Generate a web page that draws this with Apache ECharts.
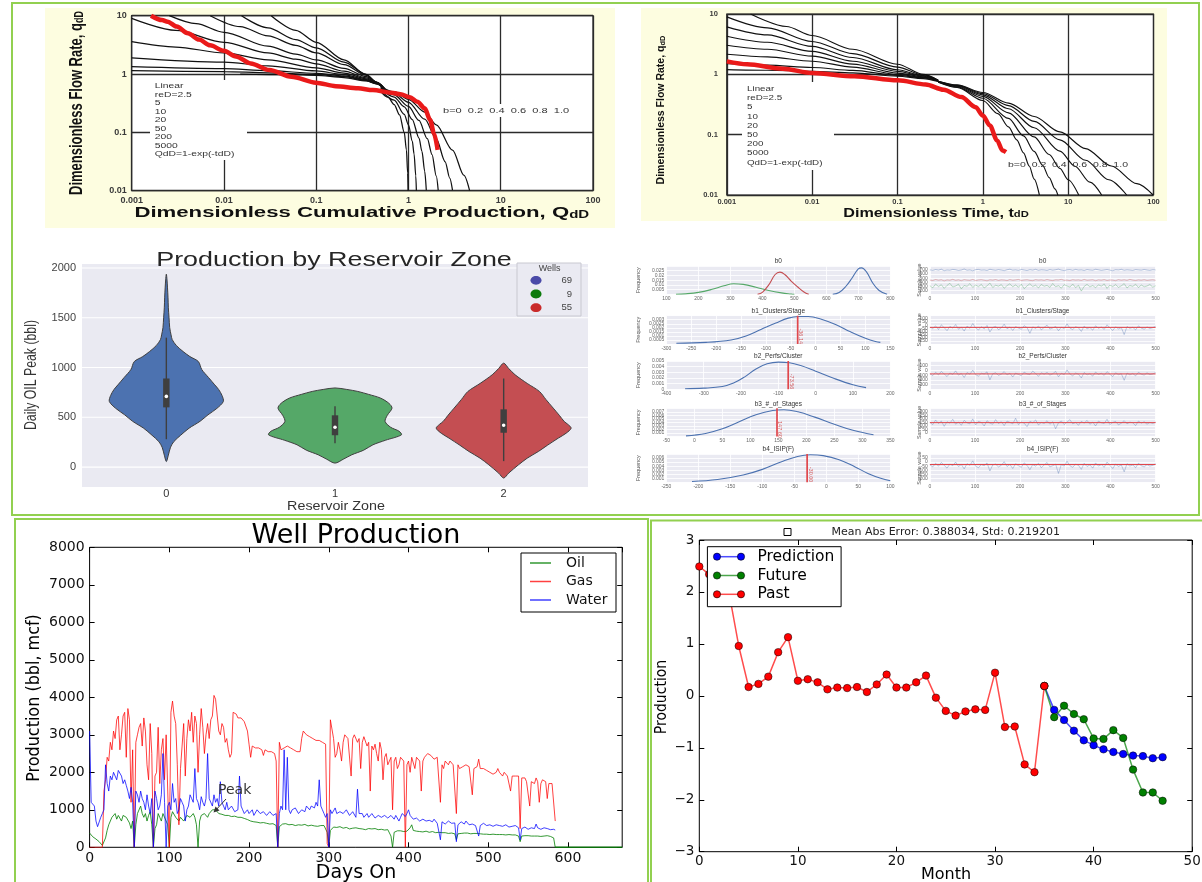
<!DOCTYPE html>
<html>
<head>
<meta charset="utf-8">
<title>Production analytics</title>
<script src="https://cdn.jsdelivr.net/npm/echarts@6/dist/echarts.min.js"></script>
<style>
  html, body { margin: 0; padding: 0; background: #fff; }
  #c { width: 1202px; height: 882px; }
</style>
</head>
<body>
<div id="c"></div>
<script>
// ===== Type curves, cumulative-production domain (Q_dD, q_dD) =====
const cumTransientStems = [
  [[0.0325,10],[0.06,5.6],[0.1,3.5],[0.2,1.75],[0.34,1.0],[0.45,0.7],[0.6,0.47]],
  [[0.0155,10],[0.03,6.2],[0.06,3.9],[0.1,2.8],[0.2,1.6],[0.35,0.98],[0.45,0.72],[0.6,0.47]],
  [[0.0071,10],[0.015,6.5],[0.03,4.5],[0.06,3.1],[0.1,2.3],[0.2,1.45],[0.35,0.95],[0.45,0.73],[0.6,0.47]],
  [[0.00256,10],[0.005,7.3],[0.01,5.2],[0.03,3.0],[0.06,2.2],[0.1,1.75],[0.2,1.25],[0.35,0.9],[0.45,0.73],[0.6,0.47]],
  [[0.001,9.0],[0.003,5.6],[0.01,3.5],[0.03,2.3],[0.06,1.8],[0.1,1.5],[0.2,1.12],[0.35,0.86],[0.45,0.72],[0.6,0.47]],
  [[0.001,3.58],[0.003,2.9],[0.01,2.3],[0.03,1.75],[0.1,1.28],[0.2,1.04],[0.35,0.83],[0.45,0.71],[0.6,0.47]],
  [[0.001,1.9],[0.01,1.6],[0.03,1.38],[0.1,1.13],[0.2,0.98],[0.35,0.8],[0.45,0.7],[0.6,0.47]],
  [[0.001,1.34],[0.01,1.24],[0.03,1.14],[0.1,1.03],[0.2,0.93],[0.35,0.78],[0.45,0.69],[0.6,0.47]],
  [[0.001,1.14],[0.01,1.1],[0.03,1.05],[0.1,0.98],[0.2,0.9],[0.35,0.77],[0.45,0.68],[0.6,0.47]],
  [[0.015,1.0],[0.05,0.98],[0.1,0.95],[0.2,0.87],[0.35,0.76],[0.45,0.68],[0.6,0.47]]
];
const cumDepletionStems = [
  [[0.5,0.5],[0.6,0.4],[0.7,0.3],[0.8,0.2],[0.9,0.1],[0.95,0.05],[0.98,0.02],[0.99,0.01]],
  [[0.5,0.528],[0.7,0.358],[0.9,0.204],[1.0,0.134],[1.1,0.0706],[1.15,0.0425],[1.2,0.018],[1.218,0.01]],
  [[0.5,0.552],[0.7,0.403],[0.9,0.274],[1.1,0.166],[1.3,0.08],[1.4,0.047],[1.5,0.0215],[1.56,0.0102]],
  [[0.5,0.572],[0.7,0.44],[1.0,0.279],[1.3,0.16],[1.6,0.0778],[1.8,0.0415],[2.0,0.0179],[2.1,0.0102]],
  [[0.5,0.59],[0.7,0.47],[1.0,0.328],[1.5,0.168],[2.0,0.0778],[2.5,0.0313],[2.8,0.0165],[3.0,0.0102]],
  [[0.5,0.607],[0.7,0.497],[1.0,0.368],[1.5,0.223],[2.0,0.135],[3.0,0.0498],[4.0,0.0183],[4.6,0.01]]
];
const cumWellTrack = [
  [0.00162,10],[0.00213,8.4],[0.00245,7.9],[0.00308,6.5],[0.00407,5.0],[0.00537,3.9],[0.00708,3.1],
  [0.00996,2.5],[0.0135,2.0],[0.0195,1.52],[0.031,1.17],[0.054,0.9],[0.0993,0.71],[0.163,0.62],
  [0.284,0.57],[0.411,0.53],[0.653,0.48],[0.822,0.45],[1.035,0.4],[1.245,0.336],[1.5,0.258],
  [1.72,0.163],[1.89,0.096],[2.07,0.05]
];

// ===== Type curves, time domain (t_dD, q_dD) =====
const timeTransientStems = [
  [[0.0019,10],[0.005,6.2],[0.01,4.4],[0.03,2.6],[0.1,1.47],[0.2,1.0],[0.3,0.8]],
  [[0.001,8.97],[0.003,5.9],[0.01,3.5],[0.03,2.2],[0.1,1.32],[0.2,0.98],[0.3,0.8]],
  [[0.001,6.12],[0.003,4.5],[0.01,2.9],[0.03,1.9],[0.1,1.19],[0.2,0.95],[0.3,0.79]],
  [[0.001,4.28],[0.003,3.4],[0.01,2.4],[0.03,1.65],[0.1,1.12],[0.2,0.93],[0.3,0.79]],
  [[0.001,3.03],[0.003,2.6],[0.01,2.0],[0.03,1.48],[0.1,1.05],[0.2,0.91],[0.3,0.78]],
  [[0.001,2.15],[0.003,1.95],[0.01,1.65],[0.03,1.32],[0.1,1.0],[0.2,0.89],[0.3,0.78]],
  [[0.001,1.5],[0.003,1.42],[0.01,1.3],[0.03,1.16],[0.1,0.96],[0.2,0.87],[0.3,0.77]],
  [[0.001,1.2],[0.003,1.17],[0.01,1.12],[0.03,1.06],[0.1,0.93],[0.2,0.85],[0.3,0.76]]
];
const timeDepletionStems = [
  [[0.3,0.741],[0.5,0.607],[1,0.368],[1.5,0.223],[2,0.135],[2.5,0.082],[3,0.0498],[3.5,0.0302],[4,0.0183],[4.6,0.01]],
  [[0.3,0.747],[0.5,0.621],[1,0.402],[2,0.186],[3,0.0954],[4,0.0529],[5,0.0313],[6,0.0194],[7,0.0126],[7.6,0.0098]],
  [[0.3,0.753],[0.5,0.634],[1,0.431],[2,0.23],[4,0.0917],[6,0.0469],[8,0.0277],[10,0.0179],[13.3,0.00996]],
  [[0.3,0.759],[0.5,0.646],[1,0.457],[2,0.269],[4,0.13],[8,0.0534],[12,0.03],[18,0.0163],[24.7,0.01]],
  [[0.3,0.764],[0.5,0.657],[1,0.48],[2,0.303],[4,0.166],[8,0.082],[16,0.0376],[30,0.0179],[48.5,0.01]],
  [[0.3,0.769],[0.5,0.667],[1,0.5],[2,0.333],[4,0.2],[8,0.111],[16,0.0588],[32,0.0303],[64,0.0154],[99,0.01]]
];
const timeWellTrack = [
  [0.001,1.64],[0.00173,1.47],[0.00454,1.24],[0.0101,1.05],[0.0312,0.93],[0.101,0.795],[0.214,0.68],
  [0.347,0.556],[0.561,0.42],[0.824,0.286],[1.0,0.208],[1.21,0.142],[1.47,0.08],[1.7,0.0546],[1.87,0.0512]
];
const typeCurveNotes = ['Linear', 'reD=2.5', '5', '10', '20', '50', '200', '5000', 'QdD=1-exp(-tdD)'];
const bStemNote = 'b=0  0.2  0.4  0.6  0.8  1.0';

// ===== Violin plot: daily oil peak by reservoir zone =====
const zoneLabels = ['0', '1', '2'];
// [value, half-width as a fraction of the category band]
const violinZone0 = [[56,0],[120,0.012],[200,0.025],[257,0.045],[320,0.085],[391,0.135],[460,0.2],[525,0.247],
  [590,0.3],[659,0.338],[720,0.33],[780,0.31],[826,0.287],[900,0.25],[980,0.21],[1060,0.19],[1110,0.14],
  [1160,0.1],[1220,0.06],[1280,0.035],[1328,0.028],[1400,0.02],[1500,0.016],[1600,0.012],[1700,0.01],
  [1800,0.007],[1880,0.004],[1938,0]];
const violinZone1 = [[40,0],[80,0.05],[124,0.1],[170,0.17],[224,0.225],[270,0.3],[324,0.394],[360,0.38],
  [400,0.33],[458,0.297],[520,0.31],[592,0.338],[640,0.32],[693,0.27],[730,0.2],[760,0.135],[780,0.07],[795,0]];
const violinZone2 = [[-110,0],[-60,0.03],[23,0.088],[90,0.14],[157,0.206],[220,0.26],[291,0.324],[340,0.37],
  [391,0.4],[430,0.38],[458,0.359],[520,0.33],[592,0.294],[680,0.25],[760,0.212],[840,0.14],[927,0.068],
  [990,0.03],[1044,0]];
// q1, q3, median, lower whisker, upper whisker
const violinStats = [[600, 890, 710, 280, 1300], [320, 520, 400, 240, 610], [345, 580, 420, 60, 890]];
const wellCounts = ['69', '9', '55'];
const violinGridValues = [0, 500, 1000, 1500, 2000];

// ===== Posterior densities and sampler traces =====
const paramNames = ['b0', 'b1_Clusters/Stage', 'b2_Perfs/Cluster', 'b3_#_of_Stages', 'b4_ISIP(F)'];
const kdeXRange = [[100, 800, 100], [-300, 150, 50], [-400, 200, 100], [-50, 350, 50], [-250, 100, 50]];
const kdeYRange = [[0, 0.03, 0.005], [0, 0.0035, 0.0005], [0, 0.005, 0.001], [0, 0.008, 0.001], [0, 0.007, 0.001]];
const traceYRange = [[100, 800, 100], [-300, 150, 50], [-400, 200, 100], [-50, 350, 50], [-250, 100, 50]];
const b0KdeGreen = [[130,0],[160,0.0005],[200,0.002],[240,0.005],[280,0.009],[310,0.0112],[340,0.0105],[380,0.0075],[420,0.004],[460,0.0015],[490,0.0003],[500,0]];
const b0KdeRed = [[385,0],[400,0.002],[420,0.01],[440,0.021],[455,0.0235],[470,0.021],[490,0.014],[510,0.008],[530,0.0025],[545,0]];
const b0KdeBlue = [[620,0],[640,0.002],[660,0.008],[680,0.017],[700,0.027],[710,0.028],[725,0.024],[745,0.012],[765,0.004],[790,0]];
const b1Kde = [[-280,0.0001],[-220,0.0002],[-170,0.0005],[-140,0.001],[-110,0.0018],[-80,0.0026],[-55,0.0032],[-35,0.0034],[-15,0.0034],[10,0.0031],[40,0.0024],[70,0.0015],[100,0.0007],[120,0.0003],[130,0.0002]];
const b2Kde = [[-350,0.0001],[-300,0.0002],[-250,0.0005],[-220,0.0011],[-190,0.0022],[-160,0.0036],[-130,0.0045],[-100,0.0048],[-70,0.0047],[-40,0.0042],[0,0.0032],[50,0.0019],[100,0.0008],[135,0.0003]];
const b3Kde = [[-15,0.0002],[20,0.0009],[50,0.0022],[80,0.0042],[110,0.0062],[140,0.0074],[160,0.0076],[185,0.007],[215,0.0055],[250,0.0035],[285,0.0017],[320,0.0005]];
const b4Kde = [[-210,0.0002],[-170,0.0007],[-130,0.0018],[-100,0.0032],[-70,0.0051],[-45,0.0064],[-25,0.0068],[-5,0.0066],[20,0.0056],[45,0.0038],[65,0.0022],[85,0.001],[100,0.0004]];
const posteriorMeans = [null, -36.14, -73.56, 147.60, -30.00];
const b0TraceBlue = [705,690,712,698,720,684,701,695,716,707,689,700,726,694,703,681,709,715,697,702,688,719,704,693,711,699,684,707,721,696,703,690,714,700,686,709,697,718,692,705,701,688,712,695,707,723,699,685,704,710,692,716,698,703,687,712,700,694,719,706,690,701,713,697,684,708,702,717,693,705,698,689,711,703,696,714,700,691,707,702];
const b0TraceRed = [452,440,466,448,459,431,455,447,470,444,457,436,462,450,445,468,439,454,461,447,433,458,449,465,442,456,451,437,463,446,455,468,441,452,459,444,437,461,450,456,443,466,448,439,457,453,470,445,451,438,460,449,455,442,467,446,452,459,435,456,448,463,441,454,450,437,462,447,458,444,469,451,440,456,447,461,443,452,458,446];
const b0TraceGreen = [312,260,355,290,338,245,320,372,280,305,350,232,318,296,365,270,330,288,348,255,310,378,268,325,300,342,248,315,360,285,332,275,352,238,308,362,292,326,258,345,298,320,270,368,286,312,250,340,305,278,355,265,322,180,296,348,282,317,262,336,300,358,245,328,290,342,272,310,364,255,318,294,350,268,330,286,305,344,276,312];
const b1Trace = [-30,-55,-12,-70,5,-40,-88,-20,-48,10,-65,-35,-95,-15,-50,25,-42,-78,-25,-60,-5,-110,-38,-18,-72,-44,15,-58,-30,-85,-22,-47,-66,-8,-40,-130,-28,-52,-14,-75,-36,0,-62,-45,-20,-90,-33,-55,20,-48,-70,-25,-42,-100,-15,-58,-38,-80,-10,-50,-30,-68,5,-44,-85,-26,-60,-40,-150,-22,-52,-35,-75,-12,-48,-65,-28,-55,-40,-18];
const b2Trace = [-70,-110,-40,-95,-20,-75,-130,-55,-85,-10,-100,-65,-150,-45,-80,5,-90,-120,-60,-75,-30,-200,-70,-50,-105,-80,-25,-95,-60,-140,-55,-85,-110,-35,-75,-90,-15,-65,-125,-50,-80,-40,-100,-70,-20,-135,-60,-90,10,-75,-115,-55,-80,-160,-45,-95,-70,-120,-35,-85,-60,-105,-25,-80,-130,-50,-90,-70,-210,-55,-95,-65,-115,-40,-80,-100,-50,-90,-75,-45];
const b3Trace = [150,120,185,135,170,95,160,140,195,125,155,110,180,145,130,200,115,165,150,100,175,140,125,190,135,160,105,170,150,130,210,120,155,140,90,165,145,185,115,150,135,175,125,160,60,145,170,120,155,190,130,150,110,165,140,180,125,155,100,170,145,135,195,120,150,165,115,140,175,130,155,145,105,170,140,160,125,150,135,155];
const b4Trace = [-35,-60,-15,-50,-5,-40,-75,-25,-45,0,-55,-30,-85,-20,-40,15,-50,-70,-30,-45,-10,-110,-35,-25,-60,-40,5,-55,-30,-80,-20,-45,-65,-10,-40,-95,-30,-50,-15,-70,-35,-5,-60,-45,-25,-140,-30,-50,10,-45,-65,-25,-40,-90,-15,-55,-35,-75,-10,-50,-30,-65,0,-40,-80,-25,-55,-35,-120,-20,-50,-35,-70,-15,-45,-60,-30,-50,-40,-20];
const TRACE_SAMPLES = 500;

// ===== Daily well production (one reading every DAY_STEP days from day 0) =====
const DAY_STEP = 2;
const oilRate = [
  380,340,280,260,220,200,150,100,50,0,  250,450,600,700,800,850,900,750,850,900,
  700,850,900,800,850,650,500,700,0,600,  900,950,1100,900,800,900,700,850,950,600,
  0,500,600,900,800,700,900,850,700,600,  0,800,950,900,800,750,700,800,850,700,
  750,850,900,800,850,900,800,600,0,700,  850,900,900,850,800,900,950,1000,1050,1000,
  950,900,850,880,900,850,820,850,800,820,  850,830,820,800,780,800,800,770,760,740,
  720,700,700,680,650,670,680,650,640,660,  620,640,650,620,600,630,620,580,0,550,
  600,620,650,630,620,600,580,610,600,580,  560,600,620,590,600,610,580,570,560,590,
  600,570,580,560,550,580,620,580,560,400,  0,450,500,540,550,530,520,550,540,510,
  500,530,520,490,480,510,500,520,540,500,  480,490,500,470,460,500,520,490,480,500,
  500,470,460,480,480,460,450,470,470,300,  0,400,420,440,450,440,430,420,410,430,
  450,520,600,450,420,430,440,420,400,410,  420,430,410,400,430,420,400,390,380,400,
  350,390,400,390,380,370,390,380,370,360,  200,360,380,370,360,380,390,380,370,360,
  350,370,360,370,380,360,340,350,360,350,  350,340,340,350,360,340,330,340,350,340,
  340,330,330,340,350,330,320,330,340,300,  150,300,320,310,300,310,310,300,290,300,
  310,300,300,290,280,300,320,310,300,290,  290,250,0
];
const gasRate = [
  0,0,0,0,0,0,0,0,0,1500,  1800,2400,2300,2800,2600,3100,2900,3400,3500,2600,
  3000,3500,3600,2400,3700,3400,1200,2600,0,2800,  3000,3200,3300,2700,3450,3100,2200,1800,3300,2500,
  0,1900,2000,3200,1700,2600,2900,1800,3000,1500,  0,3600,3900,3500,3300,2200,600,2100,2700,3300,
  1900,2900,3400,3100,3600,2800,3500,3300,2000,3000,  3700,3200,2500,3000,3300,2900,3400,3500,4050,3950,
  3900,3100,3000,3300,3200,2800,2900,2600,2400,2500,  3600,3600,3550,3450,3500,3450,3400,3350,3300,3100,
  2750,2400,2700,2700,2650,2650,2650,2600,2600,2450,  2600,2600,2550,2550,2550,2500,2500,2300,0,2800,
  2600,2550,2650,2700,2700,2650,2650,2600,2600,2570,  2550,2550,2550,2900,3100,3050,3000,2980,2950,2900,
  2900,2850,2850,2850,2850,2800,2800,2780,2750,100,  0,3400,3350,2900,2400,2500,2800,2600,2300,2800,
  3000,3050,2900,2950,1900,2900,3000,2950,2800,2900,  2100,2800,2950,3000,2700,2800,1500,2700,2600,2750,
  2500,2300,2800,2600,1800,2400,2500,2200,2300,2400,  1000,2300,2400,2100,2200,2400,2400,2300,0,2200,
  2300,2000,2400,2350,2100,2400,2450,2300,1500,2300,  2400,2450,2500,2480,2450,2400,2350,2400,2400,2350,
  1200,2200,2100,2300,2250,2200,2300,2250,2200,2150,  900,2200,2100,2150,2150,2200,2200,2150,2150,2100,
  1400,2100,2100,2150,2350,2100,2050,2100,2100,2050,  2000,2000,2050,1950,1900,2000,2100,2000,1950,1900,
  2000,1950,1900,1950,1500,1900,1950,1900,1850,1900,  500,1850,1800,1850,1750,1800,1100,1750,1800,1700,
  1850,1750,1200,1700,1800,1750,1750,1300,1700,1720,  1700,1650,700
];
const waterRate = [
  3100,1200,1150,1100,700,550,600,800,900,1000,  2200,1700,1500,1900,1800,2000,1950,1800,2050,2000,
  1900,1700,1800,1650,1500,1300,1600,1200,0,1500,  1400,1200,1500,1300,1200,1000,1400,1100,900,1300,
  0,1500,1300,1000,1100,1400,2500,1200,0,1100,  1200,1000,1700,1200,1300,900,1000,1300,1200,1100,
  700,1000,1100,1400,1300,1200,2100,1300,1200,1000,  1350,1200,1100,1300,2500,1300,1250,1100,1400,1200,
  1300,1100,1750,1200,1100,1000,1200,1000,950,1100,  1050,950,900,1000,1900,1100,1000,900,950,1000,
  900,950,1000,850,900,1000,950,900,880,950,  920,850,860,950,900,850,880,900,0,900,
  1100,1000,2600,1000,2400,1000,900,1000,950,1050,  1000,900,900,1000,1050,950,1100,1050,1000,1100,
  1150,1050,1200,1100,1800,1100,1000,900,800,900,  0,1000,900,950,1050,900,850,950,1000,900,
  900,1000,950,850,850,950,900,800,1550,900,  850,900,800,850,900,800,780,900,850,780,
  800,850,900,800,780,850,820,780,750,850,  800,750,850,800,700,800,900,850,820,900,
  1000,850,800,750,700,780,750,700,680,750,  720,700,650,720,700,680,750,700,640,680,
  200,680,700,620,650,700,680,640,600,650,  150,600,620,680,650,620,700,650,600,580,
  620,600,580,560,300,580,600,640,620,580,  560,600,600,560,580,600,550,580,600,560,
  570,600,560,540,590,560,550,580,560,520,  200,500,520,540,500,480,480,520,550,500,
  620,520,500,480,450,520,550,500,480,470,  450,480,460
];
const oilTailDays = [588, 668];
const oilTail = [0, 0];

// ===== Monthly forecast check =====
const pastMonths = [0,1,2,3,4,5,6,7,8,9,10,11,12,13,14,15,16,17,18,19,20,21,22,23,24,25,26,27,28,29,30,31,32,33,34,35];
const pastValues = [2.49,2.34,2.25,2.0,0.96,0.17,0.23,0.37,0.84,1.13,0.29,0.32,0.26,0.125,0.16,0.15,0.17,0.074,0.22,0.41,
  0.16,0.16,0.26,0.39,-0.035,-0.29,-0.38,-0.30,-0.26,-0.27,0.446,-0.60,-0.59,-1.32,-1.47,0.19];
const futureMonths = [35,36,37,38,39,40,41,42,43,44,45,46,47];
const predictionValues = [0.19,-0.27,-0.465,-0.67,-0.856,-0.95,-1.03,-1.08,-1.12,-1.15,-1.16,-1.20,-1.18];
const futureValues = [0.19,-0.41,-0.19,-0.35,-0.45,-0.82,-0.83,-0.66,-0.81,-1.42,-1.86,-1.86,-2.02];
const errorSummary = 'Mean Abs Error: 0.388034, Std: 0.219201';

// ===================== drawing =====================
const ARIAL = "'Liberation Sans', Arial, sans-serif";
const MPL = "'DejaVu Sans', sans-serif";
const FRAME = '#92D050';
const CREAM = '#fdfde0';
const SEA_BLUE = '#4C72B0', SEA_GREEN = '#55A868', SEA_RED = '#C44E52';

const grids = [], xAxes = [], yAxes = [], series = [], graphics = [];

function addPanel(g, xa, ya) {
  grids.push(Object.assign({ outerBoundsMode: 'none', containLabel: false }, g));
  const gi = grids.length - 1;
  xAxes.push(Object.assign({ gridIndex: gi }, xa));
  yAxes.push(Object.assign({ gridIndex: gi }, ya));
  return { g: gi, x: xAxes.length - 1, y: yAxes.length - 1 };
}
function T(x, y, text, o) {
  o = o || {};
  const el = {
    type: 'text', x: x, y: y, z: o.z == null ? 100 : o.z, silent: true,
    rotation: o.rot || 0, scaleX: o.sx || 1, scaleY: o.sy || 1,
    style: {
      text: text, fill: o.fill || '#222', fontSize: o.size || 12, fontFamily: o.font || ARIAL,
      fontWeight: o.weight || 'normal', align: o.align || 'center', verticalAlign: o.va || 'middle'
    }
  };
  if (o.rich) el.style.rich = o.rich;
  graphics.push(el);
}
function R(x, y, w, h, style, z) {
  graphics.push({ type: 'rect', z: z, silent: true, shape: { x: x, y: y, width: w, height: h }, style: style });
}
function L(x1, y1, x2, y2, stroke, lw, z) {
  graphics.push({ type: 'line', z: z == null ? 100 : z, silent: true, shape: { x1: x1, y1: y1, x2: x2, y2: y2 }, style: { stroke: stroke, lineWidth: lw } });
}
function C(cx, cy, r, fill, stroke, z) {
  graphics.push({ type: 'circle', z: z == null ? 100 : z, silent: true, shape: { cx: cx, cy: cy, r: r }, style: { fill: fill, stroke: stroke, lineWidth: 0.6 } });
}
const logLabel = v => String(+Number(v).toPrecision(2));
const plainLabel = v => String(v);
const sub = (size, fill) => ({ s: { fontSize: size, fontWeight: 'bold', fontFamily: ARIAL, fill: fill, verticalAlign: 'bottom' } });

function curve(p, data, color, width, z) {
  series.push({
    type: 'line', xAxisIndex: p.x, yAxisIndex: p.y, data: data, showSymbol: false, symbol: 'none',
    smooth: 0.3, smoothMonotone: 'x', lineStyle: { color: color, width: width }, silent: true, z: z
  });
}

// ---------- type-curve panels ----------
function logAxis(min, max, size, margin) {
  return {
    type: 'log', logBase: 10, min: min, max: max,
    axisLine: { show: false }, axisTick: { show: false },
    splitLine: { show: true, lineStyle: { color: '#2b2b2b', width: 1.3 } },
    axisLabel: { formatter: logLabel, fontSize: size, fontWeight: 'bold', color: '#3a3a3a', margin: margin, fontFamily: ARIAL }
  };
}
R(45, 8, 570, 220, { fill: CREAM }, -10);
R(641, 8, 526, 213, { fill: CREAM }, -10);

const pA = addPanel(
  { left: 131.7, top: 15.7, width: 461.3, height: 175, show: true, backgroundColor: '#fff', borderColor: '#1a1a1a', borderWidth: 1.2 },
  logAxis(0.001, 100, 9, 5), logAxis(0.01, 10, 9, 5)
);
cumTransientStems.forEach(s => curve(pA, s, '#111', 1.25, 3));
cumDepletionStems.forEach(s => curve(pA, s, '#111', 1.25, 3));
curve(pA, cumWellTrack, '#ea1a1a', 4.5, 4);

R(150, 80, 97, 80, { fill: '#fff' }, 1);
typeCurveNotes.forEach((t, i) => T(154.7, 86 + i * 8.5 + (i > 0 ? 0.3 : 0), t, { size: 7.5, sx: 1.38, align: 'left', fill: '#333' }));
R(441, 104, 136, 13, { fill: '#fff' }, 1);
T(443, 110.7, bStemNote, { size: 8, sx: 1.38, align: 'left', fill: '#333' });
T(77, 103, 'Dimensionless Flow Rate, q{s|dD}', { size: 13, weight: 'bold', rot: Math.PI / 2, sy: 1.35, fill: '#111', rich: sub(9, '#111') });
T(361.8, 213, 'Dimensionless Cumulative Production, Q{s|dD}', { size: 15.5, weight: 'bold', sx: 1.43, fill: '#111', rich: sub(10.5, '#111') });

const pB = addPanel(
  { left: 726.8, top: 14, width: 426.7, height: 181, show: true, backgroundColor: '#fff', borderColor: '#1a1a1a', borderWidth: 1.2 },
  logAxis(0.001, 100, 7.5, 3), logAxis(0.01, 10, 7.5, 9)
);
timeTransientStems.forEach(s => curve(pB, s, '#111', 1.15, 3));
timeDepletionStems.forEach(s => curve(pB, s, '#111', 1.15, 3));
curve(pB, timeWellTrack, '#ea1a1a', 4.5, 4);

R(742, 82, 92, 88, { fill: '#fff' }, 1);
typeCurveNotes.forEach((t, i) => T(747, 89 + i * 9.2, t, { size: 7, sx: 1.4, align: 'left', fill: '#333' }));
T(1008, 165, bStemNote, { size: 7, sx: 1.5, align: 'left', fill: '#333' });
T(661.4, 110, 'Dimensionless Flow Rate, q{s|dD}', { size: 10.5, weight: 'bold', rot: Math.PI / 2, fill: '#111', rich: sub(7.5, '#111') });
T(936, 213, 'Dimensionless Time, t{s|dD}', { size: 13, weight: 'bold', sx: 1.245, fill: '#111', rich: sub(9, '#111') });

// ---------- violin panel ----------
const violinProfiles = [violinZone0, violinZone1, violinZone2];
const violinColors = [SEA_BLUE, SEA_GREEN, SEA_RED];
const pC = addPanel(
  { left: 82, top: 264, width: 506, height: 223, show: true, backgroundColor: '#EAEAF2', borderWidth: 0 },
  { type: 'category', data: zoneLabels, axisLine: { show: false }, axisTick: { show: false }, splitLine: { show: false },
    axisLabel: { fontSize: 11, color: '#333', margin: 1, fontFamily: ARIAL } },
  { type: 'value', min: -200, max: 2040, interval: 100, axisLine: { show: false }, axisTick: { show: false }, splitLine: { show: false },
    axisLabel: { fontSize: 11, color: '#444', margin: 6, showMaxLabel: false, fontFamily: ARIAL, formatter: v => (v % 500 === 0 ? String(v) : '') } }
);
series.push({
  type: 'custom', xAxisIndex: pC.x, yAxisIndex: pC.y, z: 3, silent: true,
  data: violinStats.map((s, i) => [i, s[2]]), encode: { x: 0, y: 1 },
  renderItem: function (params, api) {
    const i = api.value(0);
    const children = [];
    if (params.dataIndex === 0) {
      const cs = params.coordSys;
      violinGridValues.forEach(v => {
        const yy = api.coord([0, v])[1];
        children.push({ type: 'line', z2: -10, shape: { x1: cs.x, y1: yy, x2: cs.x + cs.width, y2: yy }, style: { stroke: '#fff', lineWidth: 1.1 } });
      });
    }
    const prof = violinProfiles[i];
    const cx = api.coord([i, 0])[0];
    const bw = api.size([1, 0])[0];
    const y = v => api.coord([i, v])[1];
    const right = prof.map(p => [cx + p[1] * bw, y(p[0])]);
    const left = prof.slice(1, -1).reverse().map(p => [cx - p[1] * bw, y(p[0])]);
    const s = violinStats[i];
    const bxw = bw * 0.038;
    children.push(
      { type: 'polygon', shape: { points: right.concat(left), smooth: 0.3 }, style: { fill: violinColors[i], stroke: '#3f3f3f', lineWidth: 1 } },
      { type: 'line', shape: { x1: cx, y1: y(s[3]), x2: cx, y2: y(s[4]) }, style: { stroke: '#3f3f3f', lineWidth: 1.4 } },
      { type: 'rect', shape: { x: cx - bxw / 2, y: y(s[1]), width: bxw, height: y(s[0]) - y(s[1]) }, style: { fill: '#3f3f3f' } },
      { type: 'circle', shape: { cx: cx, cy: y(s[2]), r: 1.8 }, style: { fill: '#fff' } }
    );
    return { type: 'group', children: children };
  }
});
T(334, 260, 'Production by Reservoir Zone', { size: 21, sx: 1.28, fill: '#262626' });
T(31, 375, 'Daily OIL Peak (bbl)', { size: 12.3, rot: Math.PI / 2, sy: 1.35, fill: '#333' });
T(336, 506.5, 'Reservoir Zone', { size: 13, sx: 1.1, fill: '#333' });
R(517, 263, 64, 53, { fill: '#EAEAF2', stroke: '#c8c8d0', lineWidth: 1 }, 50);
T(549.6, 268.5, 'Wells', { size: 9, fill: '#444', z: 101 });
['#4a4aa8', '#0b7a0b', '#c92a2a'].forEach((col, i) => {
  graphics.push({ type: 'ellipse', z: 101, silent: true, shape: { cx: 536, cy: 280.3 + i * 13.7, rx: 5.5, ry: 4.4 }, style: { fill: col } });
  T(572, 280.3 + i * 13.7, wellCounts[i], { size: 9.5, fill: '#444', z: 101, align: 'right' });
});

// ---------- posterior panels ----------
const rowTops = [266, 315.7, 361, 408.3, 454];
const ROW_H = 28.3;
function tinyAxis(r) {
  return {
    type: 'value', min: r[0], max: r[1], interval: r[2],
    axisLine: { show: false }, axisTick: { show: false },
    splitLine: { show: true, lineStyle: { color: '#fff', width: 0.8 } },
    axisLabel: { fontSize: 5, color: '#666', margin: 2, fontFamily: ARIAL, formatter: plainLabel }
  };
}
const kdeSets = [
  [[b0KdeGreen, SEA_GREEN], [b0KdeRed, SEA_RED], [b0KdeBlue, SEA_BLUE]],
  [[b1Kde, SEA_BLUE]], [[b2Kde, SEA_BLUE]], [[b3Kde, SEA_BLUE]], [[b4Kde, SEA_BLUE]]
];
const traceSets = [
  [[b0TraceBlue, 'rgba(76,114,176,0.55)'], [b0TraceRed, 'rgba(196,78,82,0.55)'], [b0TraceGreen, 'rgba(85,168,104,0.55)']],
  [[b1Trace, 'rgba(76,114,176,0.5)']], [[b2Trace, 'rgba(76,114,176,0.5)']],
  [[b3Trace, 'rgba(76,114,176,0.5)']], [[b4Trace, 'rgba(76,114,176,0.5)']]
];
paramNames.forEach((name, r) => {
  const top = rowTops[r];
  const pk = addPanel({ left: 666.4, top: top, width: 223.9, height: ROW_H, show: true, backgroundColor: '#EAEAF2', borderWidth: 0 },
    tinyAxis(kdeXRange[r]), tinyAxis(kdeYRange[r]));
  kdeSets[r].forEach(k => series.push({
    type: 'line', xAxisIndex: pk.x, yAxisIndex: pk.y, data: k[0], showSymbol: false, symbol: 'none',
    smooth: 0.4, lineStyle: { color: k[1], width: 1.1 }, silent: true, z: 3
  }));
  const m = posteriorMeans[r];
  if (m !== null) {
    const ymax = kdeYRange[r][1];
    series.push({ type: 'line', xAxisIndex: pk.x, yAxisIndex: pk.y, data: [[m, 0], [m, ymax]], showSymbol: false, symbol: 'none',
      lineStyle: { color: '#e0474c', width: 1.7 }, silent: true, z: 4 });
    series.push({ type: 'scatter', xAxisIndex: pk.x, yAxisIndex: pk.y, data: [[m, ymax * 0.55]], symbolSize: 1,
      itemStyle: { color: 'rgba(0,0,0,0)' }, silent: true, z: 5,
      label: { show: true, formatter: m.toFixed(2), rotate: -90, position: 'right', distance: 2.5, fontSize: 5.5, color: '#c33', fontFamily: ARIAL } });
  }
  const pt = addPanel({ left: 929.9, top: top, width: 225.7, height: ROW_H, show: true, backgroundColor: '#EAEAF2', borderWidth: 0 },
    tinyAxis([0, TRACE_SAMPLES, 100]), tinyAxis(traceYRange[r]));
  traceSets[r].forEach(t => series.push({
    type: 'line', xAxisIndex: pt.x, yAxisIndex: pt.y,
    data: t[0].map((v, i) => [i * TRACE_SAMPLES / (t[0].length - 1), v]),
    showSymbol: false, symbol: 'none', lineStyle: { color: t[1], width: 0.7 }, silent: true, z: 3
  }));
  if (m !== null) {
    series.push({ type: 'line', xAxisIndex: pt.x, yAxisIndex: pt.y, data: [[0, m], [TRACE_SAMPLES, m]], showSymbol: false, symbol: 'none',
      lineStyle: { color: '#e0474c', width: 1 }, silent: true, z: 4 });
  }
  T(778.3, top - 4.5, name, { size: 6.5, fill: '#333' });
  T(1042.7, top - 4.5, name, { size: 6.5, fill: '#333' });
  T(638, top + ROW_H / 2, 'Frequency', { size: 5.5, rot: Math.PI / 2, fill: '#555' });
  T(919, top + ROW_H / 2, 'Sample value', { size: 5.5, rot: Math.PI / 2, fill: '#555' });
});

// ---------- classic boxed axes ----------
function boxAxes(grid, xr, yr, xOpt, yOpt) {
  const tick = { show: true, inside: true, length: 5, lineStyle: { color: '#000', width: 1 } };
  const lab = { fontSize: 14, color: '#111', fontFamily: MPL, formatter: plainLabel };
  const p = addPanel(grid,
    Object.assign({ type: 'value', min: xr[0], max: xr[1], interval: xr[2], axisLine: { show: false, onZero: false }, axisTick: tick, splitLine: { show: false },
      axisLabel: Object.assign({}, lab, { margin: 4, showMaxLabel: xr[3] }) }, xOpt || {}),
    Object.assign({ type: 'value', min: yr[0], max: yr[1], interval: yr[2], axisLine: { show: false, onZero: false }, axisTick: tick, splitLine: { show: false },
      axisLabel: Object.assign({}, lab, { margin: 5 }) }, yOpt || {})
  );
  xAxes.push({ gridIndex: p.g, type: 'value', position: 'top', min: xr[0], max: xr[1], interval: xr[2], axisLine: { show: false, onZero: false },
    axisTick: tick, axisLabel: { show: false }, splitLine: { show: false } });
  yAxes.push({ gridIndex: p.g, type: 'value', position: 'right', min: yr[0], max: yr[1], interval: yr[2], axisLine: { show: false, onZero: false },
    axisTick: tick, axisLabel: { show: false }, splitLine: { show: false } });
  return p;
}

// ---------- well production ----------
const pE = boxAxes({ left: 89.6, top: 547.3, width: 532.6, height: 300, show: true, backgroundColor: '#fff', borderColor: '#000', borderWidth: 1 },
  [0, 668, 100, false], [0, 8000, 1000]);
const wellDays = oilRate.map((_, i) => i * DAY_STEP);
const rateLine = (vals, color) => ({
  type: 'line', xAxisIndex: pE.x, yAxisIndex: pE.y, data: wellDays.map((d, i) => [d, vals[i]]),
  showSymbol: false, symbol: 'none', lineStyle: { color: color, width: 1 }, silent: true, z: 3
});
series.push(rateLine(oilRate, 'rgba(0,128,0,0.8)'));
series.push({ type: 'line', xAxisIndex: pE.x, yAxisIndex: pE.y, data: [[wellDays[wellDays.length - 1], oilRate[oilRate.length - 1]]].concat(oilTailDays.map((d, i) => [d, oilTail[i]])),
  showSymbol: false, symbol: 'none', lineStyle: { color: 'rgba(0,128,0,0.8)', width: 1.5 }, silent: true, z: 3 });
series.push(rateLine(gasRate, 'rgba(255,0,0,0.75)'));
series.push(rateLine(waterRate, 'rgba(0,0,255,0.75)'));
T(356, 536, 'Well Production', { size: 27, font: MPL, fill: '#000' });
T(34.5, 698, 'Production (bbl, mcf)', { size: 16, font: MPL, rot: Math.PI / 2, sy: 1.15, fill: '#000' });
T(356, 873, 'Days On', { size: 19, font: MPL, fill: '#000' });
T(218, 790, 'Peak', { size: 14, font: MPL, align: 'left', fill: '#333' });
L(226, 799, 214.5, 811.5, '#333', 1);
graphics.push({ type: 'polygon', z: 100, silent: true, shape: { points: [[213.5, 812.5], [215.5, 806.5], [219.5, 810.5]] }, style: { fill: '#333' } });
R(521, 553, 95, 59, { fill: '#fff', stroke: '#000', lineWidth: 1 }, 50);
[['Oil', 'rgba(0,128,0,0.8)'], ['Gas', 'rgba(255,0,0,0.75)'], ['Water', 'rgba(0,0,255,0.75)']].forEach((e, i) => {
  const yy = 563 + i * 18.5;
  L(530, yy, 551, yy, e[1], 1.5, 101);
  T(566, yy, e[0], { size: 14, font: MPL, align: 'left', fill: '#111', z: 101 });
});

// ---------- monthly forecast ----------
const minusFmt = v => (v < 0 ? '\u2212' + Math.abs(v) : String(v));
const pF = boxAxes({ left: 699.3, top: 540, width: 492.9, height: 311.7, show: true, backgroundColor: '#fff', borderColor: '#000', borderWidth: 1 },
  [0, 50, 10, true], [-3, 3, 1], { axisLabel: { fontSize: 13.5, color: '#111', fontFamily: MPL, margin: 3, formatter: plainLabel } },
  { axisLabel: { fontSize: 13.5, color: '#111', fontFamily: MPL, margin: 5, formatter: minusFmt } });
const monthLine = (months, vals, line, fill, name) => ({
  type: 'line', name: name, xAxisIndex: pF.x, yAxisIndex: pF.y, data: months.map((m, i) => [m, vals[i]]),
  symbol: 'circle', symbolSize: 7.5, showSymbol: true, lineStyle: { color: line, width: 1.5 },
  itemStyle: { color: fill, borderColor: '#000', borderWidth: 0.5 }, silent: true, z: 3
});
series.push(monthLine(futureMonths, predictionValues, 'rgba(0,0,255,0.7)', '#0000ff', 'Prediction'));
series.push(monthLine(futureMonths, futureValues, 'rgba(0,128,0,0.7)', '#008000', 'Future'));
series.push(monthLine(pastMonths, pastValues, 'rgba(255,0,0,0.7)', '#ff0000', 'Past'));
T(945.7, 532, errorSummary, { size: 11, font: MPL, fill: '#222' });
R(784, 528.5, 7, 7, { fill: '#fff', stroke: '#000', lineWidth: 1 }, 100);
T(662.3, 697, 'Production', { size: 14, font: MPL, rot: Math.PI / 2, sy: 1.1, fill: '#000' });
T(946, 875, 'Month', { size: 16, font: MPL, fill: '#000' });
R(707.4, 546.7, 133.7, 60, { fill: '#fff', stroke: '#000', lineWidth: 1 }, 50);
[['Prediction', '#0000ff', 'rgba(0,0,255,0.7)'], ['Future', '#008000', 'rgba(0,128,0,0.7)'], ['Past', '#ff0000', 'rgba(255,0,0,0.7)']].forEach((e, i) => {
  const yy = 556.7 + i * 18.8;
  L(717, yy, 741, yy, e[2], 1.5, 101);
  C(717, yy, 3.6, e[1], '#000', 102);
  C(741, yy, 3.6, e[1], '#000', 102);
  T(757.4, yy, e[0], { size: 15.5, font: MPL, align: 'left', fill: '#000', z: 101 });
});

// ---------- panel frames ----------
graphics.push({ type: 'rect', z: 300, silent: true, shape: { x: 12, y: 3, width: 1187, height: 512 }, style: { fill: null, stroke: FRAME, lineWidth: 2 } });
graphics.push({ type: 'polyline', z: 300, silent: true, shape: { points: [[15, 884], [15, 519], [648, 519], [648, 884]] }, style: { fill: null, stroke: FRAME, lineWidth: 2 } });
graphics.push({ type: 'polyline', z: 300, silent: true, shape: { points: [[651, 884], [651, 520.5], [1204, 520.5]] }, style: { fill: null, stroke: FRAME, lineWidth: 2 } });

const chart = echarts.init(document.getElementById('c'), null, { renderer: 'canvas', width: 1202, height: 882 });
chart.setOption({
  animation: false,
  backgroundColor: '#fff',
  textStyle: { fontFamily: ARIAL },
  grid: grids,
  xAxis: xAxes,
  yAxis: yAxes,
  series: series,
  graphic: { elements: graphics }
});
</script>
</body>
</html>
